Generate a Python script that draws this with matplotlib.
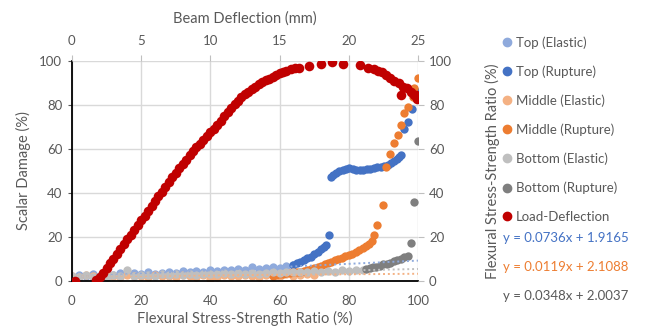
import matplotlib.pyplot as plt
from matplotlib.lines import Line2D

plt.rcParams['font.family'] = ['Lato', 'DejaVu Sans']

# colours (Excel palette)
c_top_e = '#8FAADC'
c_top_r = '#4472C4'
c_mid_e = '#F4B183'
c_mid_r = '#ED7D31'
c_bot_e = '#BFBFBF'
c_bot_r = '#7F7F7F'
c_load = '#C00000'

# Top (Elastic)
top_e_x = [0, 2, 4, 6, 8, 10, 12, 14, 16, 18, 20, 22, 24, 26, 28, 30, 32, 34, 36, 38,
           40, 42, 44, 46, 48, 50, 52, 54, 56, 58, 60, 62, 64]
top_e_y = [2.0, 2.6, 2.2, 3.0, 2.4, 3.2, 2.8, 3.6, 3.1, 3.5, 3.3, 4.0, 3.4, 3.8, 3.9, 3.5, 4.4, 4.0, 4.6, 4.2,
           5.0, 4.6, 5.2, 4.8, 5.6, 5.0, 6.2, 5.4, 5.8, 6.4, 6.0, 6.8, 7.2]

# Top (Rupture)
top_r_x = [64, 65, 66, 67, 68, 69, 70, 71, 72, 72.8, 73.4, 74.2,
           74.8, 75.5, 76.3, 77.2, 78.2, 79.2, 80.2, 81.2, 82.2, 83.2, 84.2, 85.2, 86.2, 87.2,
           88.2, 89.2, 90.2, 91.2, 92.2, 93.0, 93.8, 94.5, 95.1,
           96.0, 97.0, 98.2, 100]
top_r_y = [7.5, 8.2, 8.8, 9.5, 10.3, 11.0, 12.2, 13.3, 14.5, 15.5, 16.3, 20.9,
           47.4, 48.3, 49.2, 49.8, 50.3, 51.0, 51.2, 50.8, 50.6, 50.5, 50.6, 50.8, 51.0, 51.2,
           51.6, 52.0, 52.2, 52.8, 53.5, 54.5, 55.5, 56.4, 57.3,
           69.0, 72.4, 78.0, 86.0]

# Middle (Elastic)
mid_e_x = [0, 2, 4, 6, 8, 10, 12, 14, 16, 18, 20, 22, 24, 26, 28, 30, 32, 34, 36, 38,
           40, 42, 44, 46, 48, 50, 52, 54, 56, 58, 60, 62, 64, 66, 68, 70]
mid_e_y = [2.4, 1.8, 2.9, 2.2, 1.6, 2.6, 2.3, 1.9, 2.7, 2.1, 2.5, 1.7, 2.8, 2.2, 2.4, 1.9, 2.9, 2.3, 2.0, 2.6,
           0.8, 1.8, 2.7, 2.5, 2.2, 2.9, 2.4, 2.0, 2.8, 2.6, 2.3, 3.0, 2.5, 2.7, 3.1, 2.8]

# Middle (Rupture)
mid_r_x = [58, 59, 60, 61, 62, 63, 64, 65, 66, 67, 68, 69, 70, 71, 72, 73, 74, 75, 76, 77,
           78, 79, 80, 81, 82, 83, 84, 85, 85.8, 86.6, 87.3, 88.3, 90.0,
           90.7, 92.0, 93.1, 94.1, 95.1, 96.0, 97.0, 98.6, 98.9, 100]
mid_r_y = [2.5, 2.7, 3.0, 3.2, 3.5, 3.7, 3.9, 4.1, 4.3, 4.7, 5.1, 5.5, 6.0, 6.5, 7.0, 7.6, 8.2, 8.8, 9.4, 10.0,
           10.6, 11.2, 11.8, 12.5, 13.2, 14.0, 14.8, 15.7, 16.6, 18.3, 20.9, 25.5, 34.5,
           52.0, 57.7, 62.6, 66.4, 70.9, 76.2, 79.2, 83.8, 87.6, 92.1]

# Bottom (Elastic)
bot_e_x = [0, 2, 4, 6, 8, 10, 12, 14, 16, 18, 20, 22, 24, 26, 28, 30, 32, 34, 36, 38,
           40, 42, 44, 46, 48, 50, 52, 54, 56, 58, 60, 62, 64, 66, 68, 70, 72, 74, 76, 78,
           80, 82, 84]
bot_e_y = [2.2, 1.7, 2.6, 2.0, 2.4, 1.9, 2.8, 2.3, 4.8, 2.5, 2.6, 2.9, 2.4, 3.0, 2.7, 3.1, 2.8, 3.3, 2.9, 3.4,
           3.1, 3.0, 3.5, 3.2, 3.6, 3.3, 3.8, 3.4, 3.7, 4.0, 3.6, 4.1, 3.9, 4.3, 4.0, 4.4, 4.2, 4.6, 4.3, 4.8,
           4.5, 4.9, 5.1]

# Bottom (Rupture)
bot_r_x = [85, 86, 87, 88, 89, 90, 91, 92, 93, 94, 95, 96, 97, 98, 98.9, 100]
bot_r_y = [5.5, 5.9, 6.3, 6.5, 7.0, 7.6, 7.9, 8.4, 9.0, 9.6, 10.2, 10.7, 11.5, 17.1, 36.0, 63.8]

# Load-Deflection (secondary axes: deflection mm vs stress-strength ratio %)
load_x = [0.2, 1.75, 2.0, 2.25, 2.5, 2.75, 3.0, 3.25, 3.5, 3.75, 4.0, 4.25, 4.5, 4.75, 5.0,
          5.25, 5.5, 5.75, 6.0, 6.25, 6.5, 6.75, 7.0, 7.25, 7.5, 7.75, 8.0, 8.25, 8.5, 8.75,
          9.0, 9.25, 9.5, 9.75, 10.0, 10.25, 10.5, 10.75, 11.0, 11.25, 11.5, 11.75, 12.0,
          12.25, 12.5, 12.75, 13.0, 13.25, 13.5, 13.75, 14.0, 14.25, 14.5, 14.75, 15.0,
          15.25, 15.5, 15.8, 16.1, 16.4, 17.1, 18.0, 18.8, 19.6, 20.8, 21.4, 21.8, 22.1,
          22.4, 22.7, 23.0, 23.3, 23.6, 23.9, 23.8, 24.2, 24.5, 24.7, 24.85, 25.0, 24.9]
load_y = [0.0, 0.5, 1.8, 3.5, 5.8, 8.0, 10.2, 12.3, 14.5, 16.7, 18.9, 21.0, 23.2, 25.3, 27.5,
          29.6, 31.8, 34.0, 36.2, 38.4, 40.6, 42.8, 44.9, 47.1, 49.2, 51.3, 53.3, 55.2, 57.1, 58.9,
          60.7, 62.4, 64.1, 65.8, 67.5, 69.2, 71.0, 72.9, 74.8, 76.7, 78.6, 80.4, 82.0,
          83.5, 84.8, 86.0, 87.2, 88.3, 89.3, 90.2, 91.1, 92.0, 92.8, 93.6, 94.3,
          95.0, 95.5, 96.1, 96.6, 97.0, 97.7, 98.6, 99.7, 98.8, 98.2, 97.0, 96.3, 95.5,
          94.8, 93.8, 92.3, 91.0, 89.8, 88.3, 84.5, 87.5, 86.0, 84.5, 84.5, 83.0, 82.5]

# linear trendlines of elastic series (slope, intercept)
trend_top = (0.0736, 1.9165)
trend_mid = (0.0119, 2.1088)
trend_bot = (0.0348, 2.0037)

tick_col = '#595959'
grid_col = '#D9D9D9'

fig = plt.figure(figsize=(6.48, 3.31), dpi=100)
pos = [0.111, 0.151, 0.534, 0.665]
ax = fig.add_axes(pos)
ms = 36

ax.scatter(top_e_x, top_e_y, s=ms, color=c_top_e, zorder=3, linewidths=0)
ax.scatter(top_r_x, top_r_y, s=ms, color=c_top_r, zorder=3, linewidths=0)
ax.scatter(mid_e_x, mid_e_y, s=ms, color=c_mid_e, zorder=3, linewidths=0)
ax.scatter(mid_r_x, mid_r_y, s=ms, color=c_mid_r, zorder=3, linewidths=0)
ax.scatter(bot_e_x, bot_e_y, s=ms, color=c_bot_e, zorder=3, linewidths=0)
ax.scatter(bot_r_x, bot_r_y, s=ms, color=c_bot_r, zorder=3, linewidths=0)

for (m, b), col in [(trend_top, c_top_e), (trend_mid, c_mid_e), (trend_bot, c_bot_e)]:
    ax.plot([0, 100], [b, m * 100 + b], linestyle=(0, (1, 1.5)), color=col, lw=1.4, zorder=4)

ax.set_xlim(0, 100)
ax.set_ylim(0, 100)
ax.set_xticks([0, 20, 40, 60, 80, 100])
ax.set_yticks([0, 20, 40, 60, 80, 100])
ax.grid(True, color=grid_col, lw=1, zorder=0)
ax.set_axisbelow(True)
for s in ['top', 'right']:
    ax.spines[s].set_visible(False)
for s in ['left', 'bottom']:
    ax.spines[s].set_color('black')
    ax.spines[s].set_linewidth(1.3)
    ax.spines[s].set_zorder(5)
ax.tick_params(colors=tick_col, labelsize=9.5, length=3, width=0.8, pad=4)
ax.tick_params(axis='x', length=0, pad=10)
ax.set_xlabel('Flexural Stress-Strength Ratio (%)', fontsize=10.5, color=tick_col, labelpad=3)
ax.set_ylabel('Scalar Damage (%)', fontsize=10.5, color=tick_col, labelpad=6)

ax2 = fig.add_axes(pos, frameon=False)
ax2.scatter(load_x, load_y, s=48, color=c_load, zorder=5, linewidths=0)
ax2.set_xlim(0, 25)
ax2.set_ylim(0, 100)
ax2.xaxis.tick_top()
ax2.xaxis.set_label_position('top')
ax2.yaxis.tick_right()
ax2.yaxis.set_label_position('right')
ax2.set_xticks([0, 5, 10, 15, 20, 25])
ax2.set_yticks([0, 20, 40, 60, 80, 100])
ax2.tick_params(colors=tick_col, labelsize=9.5, length=4, width=0.8, pad=4)
ax2.tick_params(axis='x', pad=6)
ax2.tick_params(axis='both', color='#BFBFBF')
ax2.set_xlabel('Beam Deflection (mm)', fontsize=10.5, color=tick_col, labelpad=9)
ax2.set_ylabel('Flexural Stress-Strength Ratio (%)', fontsize=10.5, color=tick_col,
               rotation=90, labelpad=24)

handles = [
    Line2D([], [], marker='o', ls='', color=c_top_e, markersize=6, label='Top (Elastic)'),
    Line2D([], [], marker='o', ls='', color=c_top_r, markersize=6, label='Top (Rupture)'),
    Line2D([], [], marker='o', ls='', color=c_mid_e, markersize=6, label='Middle (Elastic)'),
    Line2D([], [], marker='o', ls='', color=c_mid_r, markersize=6, label='Middle (Rupture)'),
    Line2D([], [], marker='o', ls='', color=c_bot_e, markersize=6, label='Bottom (Elastic)'),
    Line2D([], [], marker='o', ls='', color=c_bot_r, markersize=6, label='Bottom (Rupture)'),
    Line2D([], [], marker='o', ls='', color=c_load, markersize=6, label='Load-Deflection'),
]
leg = fig.legend(handles=handles, loc='upper left', bbox_to_anchor=(0.766, 0.91),
                 frameon=False, fontsize=9.5, labelspacing=1.25, handlelength=0.6,
                 handletextpad=0.4, borderpad=0)
for t in leg.get_texts():
    t.set_color(tick_col)

eqs = [('y = 0.0736x + 1.9165', c_top_r), ('y = 0.0119x + 2.1088', c_mid_r),
       ('y = 0.0348x + 2.0037', '#595959')]
for i, (txt, col) in enumerate(eqs):
    fig.text(0.777, 1 - (238 + 29 * i) / 331, txt, color=col, fontsize=9.5, va='center')

fig.savefig('out.png', dpi=100)
